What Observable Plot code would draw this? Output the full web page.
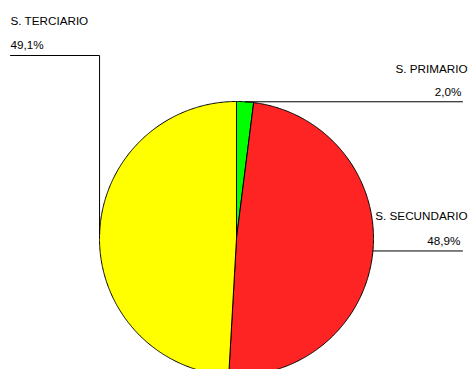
<!DOCTYPE html>
<html><head><meta charset="utf-8">
<script src="https://cdn.jsdelivr.net/npm/d3@7"></script>
<script src="https://cdn.jsdelivr.net/npm/@observablehq/plot@0.6"></script>
<style>
body{margin:0;background:#fff}
#chart svg{display:block;overflow:hidden}
</style>
</head><body><div id="chart"></div>
<script>
// ---- data ----
const sectors = ["S. PRIMARIO", "S. SECUNDARIO", "S. TERCIARIO"];
const shares = [2.0, 48.9, 49.1];
const shareLabels = ["2,0%", "48,9%", "49,1%"];
const colors = ["#00ff00", "#ff2424", "#ffff00"];

// ---- layout (pixels) ----
const W = 470, H = 369, cx = 236, cy = 238, R = 137;
const ux = px => (px - cx) / R;
const uy = py => (cy - py) / R;

// slices: angle clockwise from 12 o'clock
const total = d3.sum(shares);
let acc = 0;
const slices = sectors.map((s, i) => {
  const a0 = acc / total * 2 * Math.PI;
  acc += shares[i];
  const a1 = acc / total * 2 * Math.PI;
  return {sector: s, a0, a1, mid: (a0 + a1) / 2, i};
});

const piePts = [];
for (const sl of slices) {
  piePts.push({sector: sl.sector, x: 0, y: 0});
  const n = Math.max(4, Math.ceil((sl.a1 - sl.a0) / (2 * Math.PI) * 720));
  for (let k = 0; k <= n; k++) {
    const a = sl.a0 + (sl.a1 - sl.a0) * k / n;
    piePts.push({sector: sl.sector, x: Math.sin(a), y: Math.cos(a)});
  }
  piePts.push({sector: sl.sector, x: 0, y: 0});
}

// label placement per sector (pixel layout)
const place = {
  "S. PRIMARIO":   {anchor: "end",   nameX: 467, nameY: 72,  pctX: 461, pctY: 95,  lineTo: 462, up: null},
  "S. SECUNDARIO": {anchor: "end",   nameX: 467, nameY: 219, pctX: 460, pctY: 244, lineTo: 462, up: null},
  "S. TERCIARIO":  {anchor: "start", nameX: 10,  nameY: 24,  pctX: 10,  pctY: 48,  lineTo: 10,  up: 55}
};

const leaders = [];
const names = [], pcts = [];
for (const sl of slices) {
  const p = place[sl.sector];
  const mx = Math.sin(sl.mid), my = Math.cos(sl.mid);
  leaders.push({sector: sl.sector, x: mx, y: my});
  if (p.up != null) {
    leaders.push({sector: sl.sector, x: mx, y: uy(p.up)});
    leaders.push({sector: sl.sector, x: ux(p.lineTo), y: uy(p.up)});
  } else {
    leaders.push({sector: sl.sector, x: ux(p.lineTo), y: my});
  }
  names.push({text: sl.sector, x: ux(p.nameX), y: uy(p.nameY), anchor: p.anchor});
  pcts.push({text: shareLabels[sl.i], x: ux(p.pctX), y: uy(p.pctY), anchor: p.anchor});
}

const textOpts = {fontFamily: "Liberation Sans, Arial, sans-serif", fontSize: 11.7, fill: "#000", lineAnchor: "bottom"};

const chart = Plot.plot({
  width: W, height: H,
  margin: 0,
  x: {domain: [-1, 1], range: [cx - R, cx + R], axis: null},
  y: {domain: [-1, 1], range: [cy + R, cy - R], axis: null},
  color: {domain: sectors, range: colors},
  style: {background: "#fff"},
  marks: [
    Plot.line(piePts, {x: "x", y: "y", z: "sector", fill: "sector", stroke: "#000", strokeWidth: 1, curve: "linear"}),
    Plot.line(leaders, {x: "x", y: "y", z: "sector", stroke: "#000", strokeWidth: 1}),
    Plot.text(names.filter(d => d.anchor === "end"), {x: "x", y: "y", text: "text", textAnchor: "end", ...textOpts}),
    Plot.text(names.filter(d => d.anchor === "start"), {x: "x", y: "y", text: "text", textAnchor: "start", ...textOpts}),
    Plot.text(pcts.filter(d => d.anchor === "end"), {x: "x", y: "y", text: "text", textAnchor: "end", ...textOpts}),
    Plot.text(pcts.filter(d => d.anchor === "start"), {x: "x", y: "y", text: "text", textAnchor: "start", ...textOpts})
  ]
});
document.getElementById("chart").appendChild(chart);
</script>
</body></html>
